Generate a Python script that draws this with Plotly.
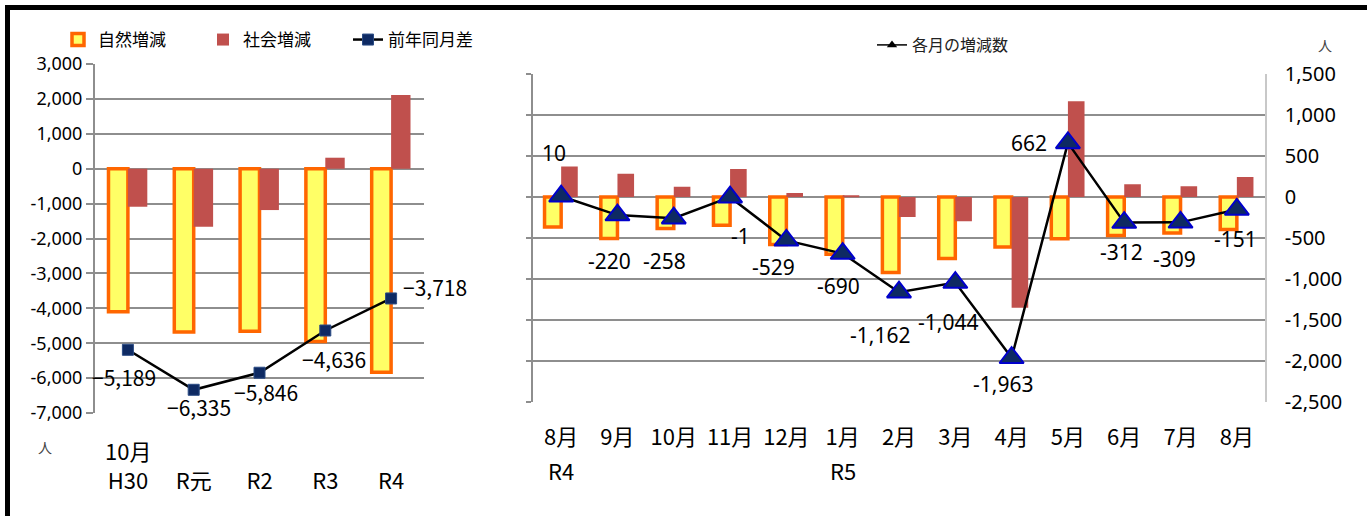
import plotly.graph_objects as go

# ---------------- data ----------------
# Left chart: each year's October
years = ["H30", "R元", "R2", "R3", "R4"]
year_month_label = "10月"
natural_year = [-4100, -4680, -4660, -4950, -5830]
social_year = [-1090, -1660, -1185, 315, 2110]
yoy_diff = [-5189, -6335, -5846, -4636, -3718]
left_ticks = [3000, 2000, 1000, 0, -1000, -2000, -3000, -4000, -5000, -6000, -7000]

# Right chart: monthly (R4/8 .. R5/8)
months = ["8月", "9月", "10月", "11月", "12月", "1月", "2月",
          "3月", "4月", "5月", "6月", "7月", "8月"]
eras = ["R4", "", "", "", "", "R5", "", "", "", "", "", "", ""]
natural_month = [-365, -505, -385, -345, -580, -700, -920, -750, -610, -510, -470, -440, -395]
social_month = [375, 285, 127, 344, 51, 10, -242, -294, -1353, 1172, 158, 131, 244]
monthly_change = [10, -220, -258, -1, -529, -690, -1162, -1044, -1963, 662, -312, -309, -151]
right_ticks = [1500, 1000, 500, 0, -500, -1000, -1500, -2000, -2500]

# label offsets (pixels) – styling only
left_lbl_dx = [-4, 5, 6, 9, 44]
left_lbl_dy = [-27, -17, -19, -28, 11]
right_lbl_dx = [-7, -8, -9, 10, -13, -4, -19, -7, -9, -39, -3, -6, -1]
right_lbl_dy = [43, -46, -43, -39, -27, -32, -43, -39, -26, 0, -29, -37, -30]

# ---------------- style ----------------
W, H = 1367, 516
CJK = "Noto Sans CJK JP"
NUM = "Noto Sans"
GRID = "#8E8E8E"
YEL = "#FFFF66"
ORA = "#FF6600"
RED = "#C0504D"
NAVY = "#0E2A63"


def px_x(p):
    return p / W


def px_y(p):
    return 1 - p / H


def fmt(v):
    return f"{v:,}"


month_pos = list(range(len(months)))

fig = go.Figure()

# ---- left chart ----
fig.add_trace(go.Bar(
    x=years, y=natural_year, name="自然増減", xaxis="x", yaxis="y",
    marker=dict(color=YEL, line=dict(color=ORA, width=3.5)), legendgroup="nat"))
fig.add_trace(go.Bar(
    x=years, y=social_year, name="社会増減", xaxis="x", yaxis="y",
    marker=dict(color=RED, line=dict(width=0)), legendgroup="soc"))
fig.add_trace(go.Scatter(
    x=years, y=yoy_diff, name="前年同月差", xaxis="x", yaxis="y",
    mode="lines+markers", line=dict(color="black", width=2.5),
    marker=dict(symbol="square", size=11, color=NAVY, line=dict(color="#2B4C85", width=1))))

# ---- right chart ----
fig.add_trace(go.Bar(
    x=month_pos, y=natural_month, name="自然増減", xaxis="x2", yaxis="y2", showlegend=False,
    marker=dict(color=YEL, line=dict(color=ORA, width=3.5)), legendgroup="nat"))
fig.add_trace(go.Bar(
    x=month_pos, y=social_month, name="社会増減", xaxis="x2", yaxis="y2", showlegend=False,
    marker=dict(color=RED, line=dict(width=0)), legendgroup="soc"))
fig.add_trace(go.Scatter(
    x=month_pos, y=monthly_change, name="各月の増減数", xaxis="x2", yaxis="y3", showlegend=False,
    mode="lines+markers", line=dict(color="black", width=2.5),
    marker=dict(symbol="triangle-up", size=21, color=NAVY, line=dict(color="#0000CC", width=2))))
# legend-only entry for the small legend at the top right
fig.add_trace(go.Scatter(
    x=[None], y=[None], name="各月の増減数", xaxis="x2", yaxis="y2", legend="legend2",
    mode="lines+markers", line=dict(color="black", width=1.5),
    marker=dict(symbol="triangle-up", size=9, color="black")))

annotations = []
for i, (c, v) in enumerate(zip(years, yoy_diff)):
    annotations.append(dict(
        x=c, y=v, xref="x", yref="y", text=fmt(v).replace("-", "\u2212"), showarrow=False,
        xshift=left_lbl_dx[i], yshift=left_lbl_dy[i], xanchor="center", yanchor="middle",
        font=dict(family=CJK, size=21, color="black")))
for i, v in enumerate(monthly_change):
    annotations.append(dict(
        x=month_pos[i], y=v, xref="x2", yref="y3", text=fmt(v), showarrow=False,
        xshift=right_lbl_dx[i], yshift=right_lbl_dy[i], xanchor="center", yanchor="middle",
        font=dict(family=NUM, size=21, color="black")))
# "10月" above the first year label
annotations.append(dict(x=years[0], y=px_y(450), xref="x", yref="paper", text=year_month_label,
                        xanchor="center", yanchor="middle", showarrow=False,
                        font=dict(family=CJK, size=22, color="black")))
# era labels below the month labels
for i, e in enumerate(eras):
    if e:
        annotations.append(dict(x=month_pos[i], y=px_y(470), xref="x2", yref="paper", text=e,
                                xanchor="center", yanchor="middle", showarrow=False,
                                font=dict(family=CJK, size=22, color="black")))
annotations.append(dict(x=px_x(45), y=px_y(447), xref="paper", yref="paper", text="人",
                        xanchor="center", yanchor="middle", showarrow=False,
                        font=dict(family=CJK, size=14, color="#444")))
annotations.append(dict(x=px_x(1325), y=px_y(45), xref="paper", yref="paper", text="人",
                        xanchor="center", yanchor="middle", showarrow=False,
                        font=dict(family=CJK, size=14, color="#444")))

left_dom_x = [px_x(95), px_x(424)]
left_dom_y = [px_y(413), px_y(64)]
right_dom_x = [px_x(533), px_x(1265)]
right_dom_y = [px_y(401.7), px_y(74.3)]
n_left = len(years)
n_right = len(months)

fig.update_layout(
    width=W, height=H, margin=dict(l=0, r=0, t=0, b=0, autoexpand=False),
    paper_bgcolor="white", plot_bgcolor="white",
    barmode="group", bargap=0.41, bargroupgap=0,
    font=dict(family=NUM, color="black"),
    xaxis=dict(domain=left_dom_x, anchor="y", type="category", range=[-0.5, n_left - 0.5],
               ticks="", showline=False, showgrid=False, ticklabelstandoff=53,
               tickfont=dict(family=CJK, size=22, color="black")),
    yaxis=dict(domain=left_dom_y, anchor="x", range=[-7000, 3000],
               tickvals=left_ticks, ticktext=[fmt(v) for v in left_ticks],
               showgrid=True, gridcolor=GRID, gridwidth=2,
               zeroline=True, zerolinecolor=GRID, zerolinewidth=2,
               showline=True, linecolor=GRID, linewidth=2,
               ticks="outside", ticklen=7, tickwidth=2, tickcolor=GRID,
               tickfont=dict(family=NUM, size=18, color="black")),
    xaxis3=dict(overlaying="x", anchor="free", position=px_y(168.7), type="linear",
                range=[-0.5, n_left - 0.5], tickvals=[i + 0.5 for i in range(n_left)],
                ticks="outside", ticklen=6, tickwidth=2, tickcolor=GRID,
                showticklabels=False, showgrid=False, zeroline=False, showline=False),
    xaxis2=dict(domain=right_dom_x, anchor="y2", type="linear", range=[-0.5, n_right - 0.5],
                tickvals=month_pos, ticktext=months,
                ticks="", showline=False, showgrid=False, zeroline=False,
                ticklabelstandoff=20,
                tickfont=dict(family=CJK, size=22, color="black")),
    yaxis2=dict(domain=right_dom_y, anchor="x2", range=[-2500, 1500],
                tickvals=right_ticks, showticklabels=False,
                showgrid=True, gridcolor=GRID, gridwidth=2,
                zeroline=True, zerolinecolor=GRID, zerolinewidth=2,
                showline=True, linecolor=GRID, linewidth=2,
                ticks="outside", ticklen=5, tickwidth=2, tickcolor=GRID),
    yaxis3=dict(overlaying="y2", anchor="x2", side="right", range=[-2500, 1500],
                tickvals=right_ticks, ticktext=[fmt(v) for v in right_ticks],
                showgrid=False, zeroline=False, showline=True, linecolor="#C8C8C8",
                linewidth=1.5, ticks="", ticklabelstandoff=14,
                tickfont=dict(family=NUM, size=20, color="black")),
    xaxis4=dict(overlaying="x2", anchor="free", position=px_y(197.1), type="linear",
                range=[-0.5, n_right - 0.5], tickvals=[i + 0.5 for i in range(-1, n_right)],
                ticks="outside", ticklen=6, tickwidth=2, tickcolor=GRID,
                showticklabels=False, showgrid=False, zeroline=False, showline=False),
    legend=dict(orientation="h", x=px_x(58), y=px_y(40), xanchor="left", yanchor="middle",
                entrywidth=100, entrywidthmode="pixels", bgcolor="rgba(0,0,0,0)",
                font=dict(family=CJK, size=17, color="black"), traceorder="normal"),
    legend2=dict(orientation="h", x=px_x(872), y=px_y(45), xanchor="left", yanchor="middle",
                 bgcolor="rgba(0,0,0,0)", font=dict(family=CJK, size=16, color="#222")),
    annotations=annotations,
    shapes=[dict(type="rect", xref="paper", yref="paper",
                 x0=px_x(7.5), x1=1.05, y0=-0.05, y1=px_y(7.5),
                 line=dict(color="black", width=5), fillcolor="rgba(0,0,0,0)", layer="above")],
    showlegend=True,
)

fig.write_html("out.html", config={"displayModeBar": False},
               post_script="document.body.style.margin='0px';")
